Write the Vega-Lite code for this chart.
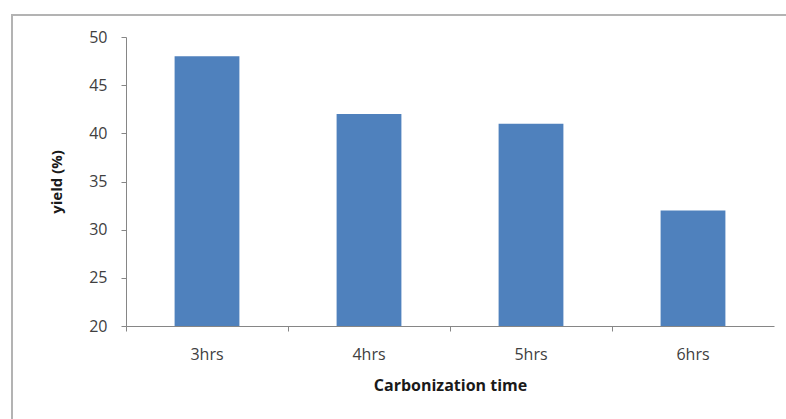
{
  "$schema": "https://vega.github.io/schema/vega-lite/v6.json",
  "autosize": {"type": "none"},
  "padding": {"left": 12, "top": 15, "right": -4, "bottom": -4},
  "width": 778,
  "height": 408,
  "background": "white",
  "config": {
    "view": {"stroke": "#b3b3b3", "strokeWidth": 2, "fill": "white"},
    "font": "Open Sans"
  },
  "data": {
    "values": [
      {"time": "3hrs", "yield": 48},
      {"time": "4hrs", "yield": 42},
      {"time": "5hrs", "yield": 41},
      {"time": "6hrs", "yield": 32}
    ]
  },
  "mark": {"type": "bar", "color": "#4f81bd"},
  "encoding": {
    "x": {
      "field": "time",
      "type": "nominal",
      "sort": null,
      "scale": {"range": [114, 762], "paddingInner": 0.6, "paddingOuter": 0.3},
      "axis": {
        "title": "Carbonization time",
        "offset": -97,
        "labelAngle": 0,
        "bandPosition": -0.75,
        "domainColor": "#868686",
        "tickColor": "#868686",
        "tickSize": 5,
        "labelPadding": 15,
        "labelFontSize": 16,
        "labelColor": "#404040",
        "titleFontSize": 16,
        "titleFontWeight": "bold",
        "titleColor": "#1a1a1a",
        "titlePadding": 15,
        "grid": false
      }
    },
    "y": {
      "field": "yield",
      "type": "quantitative",
      "scale": {"domain": [20, 50], "range": [311, 22], "nice": false, "zero": false},
      "axis": {
        "title": "yield (%)",
        "offset": -114,
        "values": [20, 25, 30, 35, 40, 45, 50],
        "domainColor": "#868686",
        "tickColor": "#868686",
        "tickSize": 5,
        "labelPadding": 14,
        "labelFontSize": 16,
        "labelColor": "#404040",
        "titleFontSize": 15,
        "titleFontWeight": "bold",
        "titleColor": "#1a1a1a",
        "titlePadding": 24,
        "grid": false
      }
    },
    "y2": {"datum": 20}
  }
}
